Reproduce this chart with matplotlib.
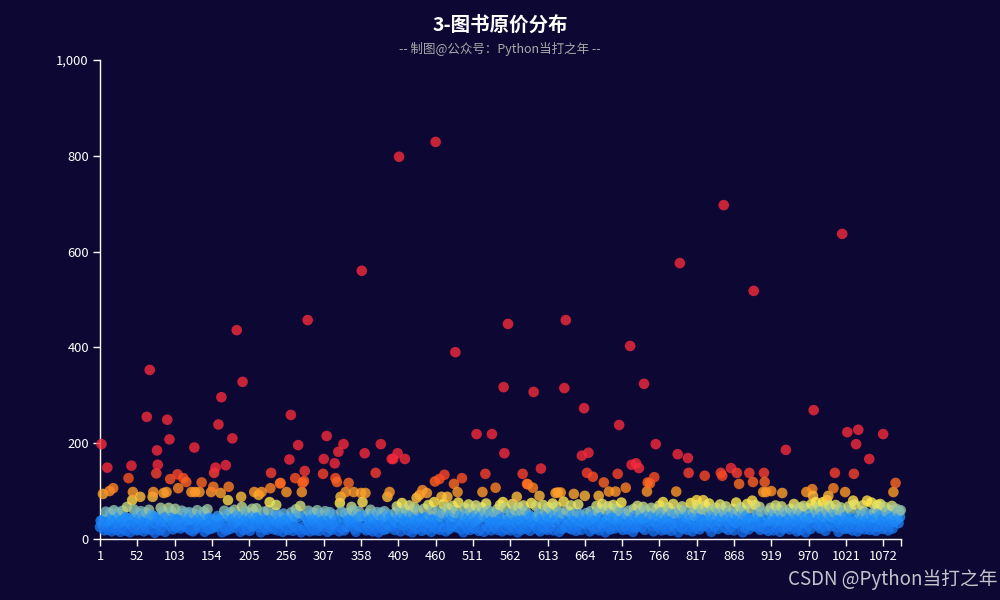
import numpy as np
import matplotlib
matplotlib.use("Agg")
import matplotlib.pyplot as plt
from matplotlib.colors import LinearSegmentedColormap, Normalize
from matplotlib.ticker import FuncFormatter

title = "3-图书原价分布"
subtitle = "-- 制图@公众号：Python当打之年 --"
watermark = "CSDN @Python当打之年"

# dense band of ordinary prices, one per book
band_prices = [
    25, 38, 58, 30, 22, 41, 18, 35, 57, 28, 44, 20, 33, 26, 55, 39, 16, 47, 29, 60,
    34, 23, 42, 19, 56, 31, 27, 48, 15, 37, 24, 59, 40, 21, 32, 45, 17, 52, 36, 26,
    43, 14, 30, 57, 25, 38, 62, 22, 46, 33, 18, 54, 28, 41, 20, 35, 58, 24, 49, 31,
    16, 39, 27, 55, 44, 21, 34, 61, 29, 42, 19, 50, 36, 23, 47, 13, 32, 56, 40, 26,
    45, 30, 18, 53, 37, 24, 58, 28, 43, 15, 35, 60, 22, 48, 33, 19, 41, 27, 57, 38,
    20, 46, 31, 63, 25, 39, 17, 52, 34, 44, 22, 29, 59, 36, 14, 42, 26, 55, 32, 48,
    23, 37, 56, 19, 45, 28, 40, 16, 53, 33, 47, 21, 38, 60, 27, 43, 18, 35, 50, 30,
    41, 24, 57, 15, 36, 49, 26, 62, 31, 20, 44, 34, 55, 22, 39, 17, 46, 29, 58, 25,
    33, 48, 19, 42, 27, 54, 37, 14, 45, 30, 59, 23, 40, 18, 51, 35, 28, 47, 21, 56,
    38, 16, 43, 32, 61, 24, 46, 20, 36, 52, 29, 41, 15, 57, 34, 25, 49, 19, 39, 58,
    27, 44, 22, 35, 55, 17, 42, 31, 63, 26, 48, 21, 37, 53, 18, 45, 30, 59, 24, 40,
    14, 50, 33, 28, 57, 39, 23, 46, 19, 36, 60, 29, 43, 16, 52, 34, 25, 47, 20, 38,
    55, 26, 41, 18, 49, 32, 58, 22, 37, 44, 15, 53, 30, 40, 24, 61, 35, 19, 46, 28,
    42, 21, 56, 33, 17, 48, 27, 39, 62, 23, 45, 31, 54, 20, 38, 14, 50, 36, 26, 57,
    30, 47, 19, 41, 25, 59, 34, 16, 52, 29, 43, 22, 36, 55, 18, 46, 32, 60, 24, 39,
    17, 44, 28, 53, 37, 21, 49, 33, 58, 26, 40, 15, 47, 31, 56, 23, 42, 19, 35, 51,
    28, 45, 20, 38, 62, 27, 48, 16, 41, 33, 57, 22, 44, 30, 18, 54, 36, 25, 50, 40,
    19, 55, 34, 43, 24, 60, 30, 46, 21, 37, 15, 52, 29, 41, 58, 26, 47, 17, 39, 32,
    48, 23, 57, 35, 18, 44, 28, 53, 38, 20, 61, 31, 42, 16, 50, 27, 45, 34, 22, 56,
    36, 14, 49, 29, 40, 55, 25, 43, 19, 58, 33, 47, 21, 37, 52, 28, 17, 45, 31, 60,
    26, 72, 41, 19, 55, 34, 68, 22, 47, 30, 58, 16, 43, 75, 28, 51, 37, 20, 62, 45,
    33, 18, 57, 70, 25, 46, 39, 14, 53, 29, 66, 42, 21, 48, 35, 59, 24, 74, 31, 44,
    17, 52, 38, 63, 27, 45, 20, 56, 34, 71, 23, 49, 30, 15, 60, 41, 26, 77, 36, 50,
    22, 43, 58, 31, 67, 19, 47, 36, 54, 25, 73, 40, 28, 16, 57, 33, 64, 44, 21, 52,
    38, 27, 69, 46, 18, 55, 32, 61, 24, 42, 76, 29, 50, 35, 20, 59, 37, 14, 48, 65,
    30, 53, 23, 44, 72, 36, 19, 57, 41, 27, 63, 47, 22, 34, 70, 26, 51, 39, 17, 58,
    45, 21, 66, 32, 49, 15, 56, 38, 74, 28, 43, 60, 25, 52, 35, 18, 68, 40, 30, 55,
    24, 47, 37, 62, 19, 54, 29, 71, 42, 33, 16, 58, 46, 26, 65, 39, 21, 50, 77, 31,
    41, 18, 55, 28, 73, 36, 48, 22, 60, 34, 45, 14, 67, 27, 52, 40, 19, 57, 31, 70,
    26, 43, 59, 21, 38, 64, 30, 50, 17, 46, 75, 35, 23, 56, 42, 28, 69, 33, 48, 20,
    54, 32, 16, 62, 44, 27, 71, 39, 22, 57, 36, 48, 19, 66, 30, 41, 25, 59, 45, 74,
    18, 51, 35, 24, 68, 43, 29, 56, 15, 47, 63, 34, 21, 53, 78, 38, 26, 45, 60, 31,
    42, 23, 57, 37, 70, 20, 49, 33, 64, 27, 44, 17, 55, 40, 72, 29, 52, 36, 19, 61,
    35, 46, 25, 67, 31, 54, 22, 43, 75, 38, 16, 58, 28, 47, 65, 34, 21, 50, 41, 69,
    24, 57, 39, 18, 62, 45, 30, 73, 26, 52, 36, 14, 60, 42, 27, 68, 33, 48, 20, 56,
    44, 29, 71, 37, 22, 53, 40, 64, 17, 47, 32, 58, 25, 76, 38, 19, 55, 43, 28, 66,
    31, 50, 20, 59, 35, 74, 26, 45, 39, 15, 63, 48, 23, 56, 41, 69, 30, 18, 52, 37,
    57, 24, 43, 67, 33, 19, 60, 46, 28, 72, 36, 53, 21, 40, 65, 27, 49, 16, 58, 34,
    22, 62, 38, 47, 25, 70, 31, 55, 18, 44, 77, 29, 51, 35, 20, 59, 42, 66, 26, 48,
    39, 17, 56, 30, 73, 41, 24, 52, 64, 33, 45, 14, 61, 37, 27, 54, 68, 22, 46, 35,
    59, 28, 44, 19, 67, 36, 50, 25, 75, 41, 16, 57, 32, 48, 63, 23, 40, 71, 30, 53,
    20, 45, 34, 62, 27, 55, 38, 18, 69, 43, 29, 58, 24, 74, 36, 47, 15, 60, 33, 51,
    42, 26, 65, 31, 49, 21, 57, 37, 72, 28, 46, 17, 61, 39, 54, 23, 68, 35, 44, 19,
    56, 30, 47, 70, 25, 40, 63, 18, 52, 34, 76, 27, 45, 59, 22, 38, 66, 29, 50, 14,
    36, 60, 23, 48, 33, 73, 41, 20, 55, 29, 64, 43, 16, 58, 37, 26, 71, 45, 31, 53,
    25, 44, 67, 19, 57, 35, 28, 62, 40, 50, 21, 74, 33, 47, 17, 59, 38, 65, 27, 42,
    48, 18, 56, 36, 70, 24, 45, 31, 61, 39, 15, 54, 68, 29, 43, 22, 57, 34, 75, 26,
    33, 52, 41, 20, 63, 46, 27, 58, 37, 72, 23, 49, 35, 16, 60, 44, 30, 66, 19, 55,
    40, 24, 69, 32, 47, 14, 56, 38, 64, 28, 51, 43, 21, 73, 34, 59, 25, 45, 62, 18,
    53, 36, 28, 67, 42, 22, 58, 31, 48, 77, 26, 44, 17, 61, 39, 54, 20, 70, 33, 47,
    27, 63, 45, 19, 55, 35, 71, 24, 50, 40, 15, 59, 32, 66, 43, 29, 57, 37, 21, 74,
    46, 30, 56, 22, 68, 38, 25, 61, 44, 18, 53, 34, 72, 28, 49, 41, 16, 64, 36, 52,
    23, 58, 39, 70, 29, 47, 20, 55, 33, 65, 42, 27, 60, 19, 50, 76, 35, 45, 24, 57,
    43, 17, 62, 37, 26, 54, 48, 73, 31, 40, 21, 59, 34, 67, 25, 46, 56, 38, 18, 61,
    30, 52, 44, 69, 22, 57, 36, 48, 27, 63, 41, 55, 33, 58, 46, 60,
]

# (book number, price) for the books that stand out above the band
outliers = [
    (3, 198), (5, 94), (11, 149), (14, 100), (19, 106), (38, 67), (40, 127), (44, 153),
    (45, 81), (46, 98), (56, 88), (65, 255), (69, 353), (73, 88), (74, 98), (78, 137),
    (79, 185), (80, 155), (84, 65), (88, 96), (92, 98), (93, 249), (95, 65), (96, 208),
    (97, 125), (107, 135), (108, 106), (115, 127), (119, 119), (126, 98), (130, 191),
    (131, 98), (137, 98), (140, 118), (153, 98), (156, 109), (157, 138), (159, 149),
    (163, 239), (166, 96), (167, 296), (173, 154), (176, 81), (177, 109), (182, 210),
    (188, 436), (194, 88), (195, 67), (196, 328), (212, 98), (215, 64), (218, 92),
    (222, 98), (233, 77), (234, 106), (235, 138), (242, 71), (247, 116), (248, 117),
    (256, 98), (260, 166), (262, 259), (268, 127), (272, 196), (275, 69), (277, 98),
    (278, 117), (280, 121), (281, 142), (285, 457), (306, 136), (307, 167), (311, 215),
    (322, 158), (323, 127), (325, 119), (327, 182), (329, 75), (330, 88), (334, 198),
    (337, 98), (341, 117), (345, 67), (348, 98), (358, 96), (359, 560), (360, 77),
    (363, 179), (364, 96), (378, 138), (385, 198), (394, 88), (397, 98), (400, 167),
    (402, 167), (408, 179), (410, 798), (418, 167),
    (434, 86), (438, 92), (442, 102), (448, 96), (459, 120), (460, 829), (465, 125),
    (468, 88), (472, 134), (476, 88), (485, 115), (487, 390), (490, 98), (496, 127),
    (516, 219), (524, 98), (528, 136), (537, 219), (542, 107), (552, 77), (553, 317),
    (554, 179), (559, 449), (571, 88), (579, 136), (585, 115), (586, 114), (593, 107),
    (594, 307), (602, 90), (604, 147), (624, 96), (627, 97), (631, 97), (636, 315),
    (638, 457), (649, 94), (660, 174), (663, 273), (664, 90), (667, 138), (669, 180),
    (675, 130), (683, 90), (690, 118), (697, 99), (706, 99), (709, 136), (711, 238),
    (720, 107), (726, 403), (728, 155), (734, 158), (738, 148), (745, 324), (749, 99),
    (750, 118), (753, 116), (759, 129), (761, 198), (789, 99), (791, 177), (794, 576),
    (805, 169), (806, 138), (817, 81), (826, 81), (828, 132), (850, 138), (852, 132),
    (854, 697), (864, 148), (872, 138), (875, 115), (889, 138), (893, 80), (894, 119),
    (895, 518), (908, 98), (909, 138), (910, 119), (912, 98), (919, 100), (934, 96),
    (939, 186), (950, 73), (967, 98), (975, 104), (976, 90), (977, 269), (980, 77),
    (995, 81), (997, 90), (1004, 106), (1006, 138), (1016, 637), (1020, 98), (1023, 223),
    (1031, 80), (1032, 136), (1035, 198), (1038, 228), (1050, 80), (1053, 167),
    (1064, 71), (1072, 219), (1086, 98), (1089, 117),
]

y_ticks = [0, 200, 400, 600, 800, 1000]
x_tick_step = 51

prices = np.array(band_prices, dtype=float)
for book, price in outliers:
    prices[book - 1] = price
books = np.arange(1, len(prices) + 1)
n = len(prices)

bg = "#0d0734"
vmax = 150
cmap = LinearSegmentedColormap.from_list("price", [
    (0.0, "#1258D8"),
    (25 / vmax, "#1A7CF2"),
    (45 / vmax, "#1E90FF"),
    (75 / vmax, "#FFEF50"),
    (100 / vmax, "#FF9424"),
    (125 / vmax, "#FF561E"),
    (1.0, "#F52A3A"),
])

plt.rcParams["font.family"] = ["Noto Sans CJK SC", "DejaVu Sans"]

fig = plt.figure(figsize=(10, 6), dpi=100, facecolor=bg)
ax = fig.add_axes([0.1, 0.1017, 0.8007, 0.7983])
ax.set_facecolor(bg)

ax.scatter(books, prices, c=prices, cmap=cmap, norm=Normalize(0, vmax),
           s=58, alpha=0.8, linewidths=0, clip_on=False, zorder=3)

ax.set_xlim(1, n)
ax.set_ylim(0, 1000)
ax.set_yticks(y_ticks)
ax.yaxis.set_major_formatter(FuncFormatter(lambda v, p: f"{int(v):,}"))
xt = list(range(1, n + 1, x_tick_step))
ax.set_xticks(xt)
ax.set_xticklabels([str(t) for t in xt])
ax.set_xticks([n], minor=True)

for side in ["top", "right"]:
    ax.spines[side].set_visible(False)
for side in ["left", "bottom"]:
    ax.spines[side].set_color("white")
    ax.spines[side].set_linewidth(1)
ax.tick_params(which="both", colors="white", labelsize=9.3, length=5, width=1, pad=3)
ax.tick_params(axis="x", which="minor", length=5)

fig.text(0.5, 1 - 25 / 600, title, ha="center", va="center",
         fontsize=14, fontweight="bold", color="white")
fig.text(0.5, 1 - 49 / 600, subtitle, ha="center", va="center",
         fontsize=9, color="#aaaaaa")
fig.text(0.997, 1 - 580 / 600, watermark, ha="right", va="center",
         fontsize=13.5, color="#c4c4cc")

fig.savefig("out.png", dpi=100, facecolor=bg)
